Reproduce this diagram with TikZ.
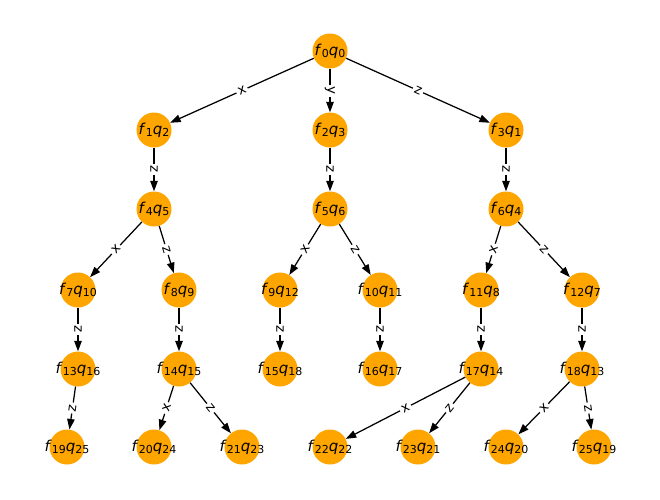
\documentclass[tikz,border=0pt]{standalone}
\usepackage{fontspec}
\setmainfont{DejaVu Sans}
\usetikzlibrary{arrows.meta}
\definecolor{cNode}{HTML}{FFA500}
\definecolor{cInk}{HTML}{000000}
% state label f_i q_j, centred with zero width so the disc keeps its size
\newcommand{\fq}[2]{\makebox[0pt]{\textit{f}\raisebox{-0.16em}{\fontsize{11}{12}\selectfont#1}\textit{q}\raisebox{-0.16em}{\fontsize{11}{12}\selectfont#2}}}
\tikzset{
  st/.style={circle, fill=cNode, minimum size=35pt, inner sep=0pt, font=\fontsize{15}{16}\selectfont, text=cInk},
  tr/.style={-{Triangle[length=10.5pt,width=7.5pt]}, line width=1.25pt, draw=cInk},
  lbl/.style={sloped, fill=white, inner sep=2pt, font=\fontsize{13.5}{14}\selectfont, text=cInk},
}
\begin{document}
\begin{tikzpicture}[x=1pt,y=-1pt]
\useasboundingbox (0,0) rectangle (660,499);
% level 0 and 1
\node[st] (f0) at (330,51) {\fq{0}{0}};
\node[st] (f1) at (154,130) {\fq{1}{2}};
\node[st] (f2) at (330,130) {\fq{2}{3}};
\node[st] (f3) at (506,130) {\fq{3}{1}};
% level 2
\node[st] (f4) at (154,209) {\fq{4}{5}};
\node[st] (f5) at (330,209) {\fq{5}{6}};
\node[st] (f6) at (506,209) {\fq{6}{4}};
% level 3
\node[st] (f7) at (78,290) {\fq{7}{10}};
\node[st] (f8) at (179,290) {\fq{8}{9}};
\node[st] (f9) at (280,290) {\fq{9}{12}};
\node[st] (f10) at (380,290) {\fq{10}{11}};
\node[st] (f11) at (481,290) {\fq{11}{8}};
\node[st] (f12) at (582,290) {\fq{12}{7}};
% level 4
\node[st] (f13) at (78,369) {\fq{13}{16}};
\node[st] (f14) at (179,369) {\fq{14}{15}};
\node[st] (f15) at (280,369) {\fq{15}{18}};
\node[st] (f16) at (380,369) {\fq{16}{17}};
\node[st] (f17) at (481,369) {\fq{17}{14}};
\node[st] (f18) at (582,369) {\fq{18}{13}};
% level 5
\node[st] (f19) at (67,447) {\fq{19}{25}};
\node[st] (f20) at (154,447) {\fq{20}{24}};
\node[st] (f21) at (242,447) {\fq{21}{23}};
\node[st] (f22) at (330,447) {\fq{22}{22}};
\node[st] (f23) at (418,447) {\fq{23}{21}};
\node[st] (f24) at (506,447) {\fq{24}{20}};
\node[st] (f25) at (594,447) {\fq{25}{19}};
% transitions
\draw[tr] (f0) -- node[lbl] {x} (f1);
\draw[tr] (f0) -- node[lbl] {y} (f2);
\draw[tr] (f0) -- node[lbl] {z} (f3);
\draw[tr] (f1) -- node[lbl] {z} (f4);
\draw[tr] (f2) -- node[lbl] {z} (f5);
\draw[tr] (f3) -- node[lbl] {z} (f6);
\draw[tr] (f4) -- node[lbl] {x} (f7);
\draw[tr] (f4) -- node[lbl] {z} (f8);
\draw[tr] (f5) -- node[lbl] {x} (f9);
\draw[tr] (f5) -- node[lbl] {z} (f10);
\draw[tr] (f6) -- node[lbl] {x} (f11);
\draw[tr] (f6) -- node[lbl] {z} (f12);
\draw[tr] (f7) -- node[lbl] {z} (f13);
\draw[tr] (f8) -- node[lbl] {z} (f14);
\draw[tr] (f9) -- node[lbl] {z} (f15);
\draw[tr] (f10) -- node[lbl] {z} (f16);
\draw[tr] (f11) -- node[lbl] {z} (f17);
\draw[tr] (f12) -- node[lbl] {z} (f18);
\draw[tr] (f13) -- node[lbl] {z} (f19);
\draw[tr] (f14) -- node[lbl] {x} (f20);
\draw[tr] (f14) -- node[lbl] {z} (f21);
\draw[tr] (f17) -- node[lbl] {x} (f22);
\draw[tr] (f17) -- node[lbl] {z} (f23);
\draw[tr] (f18) -- node[lbl] {x} (f24);
\draw[tr] (f18) -- node[lbl] {z} (f25);
\end{tikzpicture}
\end{document}
